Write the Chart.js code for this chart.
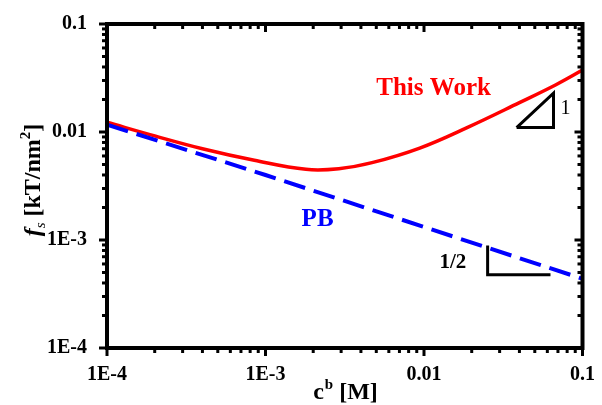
<!DOCTYPE html>
<html>
<head>
<meta charset="utf-8">
<script src="https://cdn.jsdelivr.net/npm/chart.js@4.4.1/dist/chart.umd.min.js"></script>
<style>
html, body { margin: 0; padding: 0; background: #fff; }
#chart { display: block; }
</style>
</head>
<body>
<canvas id="chart" width="602" height="405"></canvas>
<script>
// bulk concentration c^b [M]
const cb = [1e-4, 2e-4, 4e-4, 8.5e-4, 1.8e-3, 2.9e-3, 4.7e-3, 9.4e-3, 0.019, 0.04, 0.068, 0.1];
const thisWork = [0.0123, 0.0092, 0.0070, 0.00547, 0.00451, 0.00457, 0.0052, 0.0071, 0.0111, 0.0187, 0.0274, 0.0374];

const pbC = [1e-4, 1e-3, 1e-2, 1e-1];
const pb = [0.0117, 0.0040, 0.00132, 0.000438];

// slope markers
const slope1X = [0.0384, 0.0656, 0.0656, 0.0384];
const slope1Y = [0.0110, 0.0110, 0.0229, 0.0110];
const halfX = [0.0252, 0.0252, 0.0628];
const halfY = [8.9e-4, 4.77e-4, 4.77e-4];

const xTicks = [1e-4, 1e-3, 1e-2, 1e-1];
const xTickLabels = ["1E-4", "1E-3", "0.01", "0.1"];
const yTicks = [1e-4, 1e-3, 1e-2, 1e-1];
const yTickLabels = ["1E-4", "1E-3", "0.01", "0.1"];

const SERIF = "'Liberation Serif', 'Times New Roman', serif";

const pts = (xs, ys) => xs.map((v, i) => ({x: v, y: ys[i]}));

function minorValues(ticks) {
    const out = [];
    ticks.slice(0, -1).forEach(d => {
        for (let m = 2; m <= 9; m++) out.push(d * m);
    });
    return out;
}

const framePlugin = {
    id: "frame",
    afterDatasetsDraw(chart) {
        const {ctx, chartArea: a, scales: {x, y}} = chart;
        ctx.save();
        ctx.strokeStyle = "#000";
        ctx.lineWidth = 3;
        const tick = (x1, y1, x2, y2) => {
            ctx.beginPath();
            ctx.moveTo(x1, y1);
            ctx.lineTo(x2, y2);
            ctx.stroke();
        };
        const MAJ = 8, MIN = 5;
        xTicks.forEach(v => {
            const px = x.getPixelForValue(v);
            tick(px, a.bottom, px, a.bottom + MAJ);
            tick(px, a.top, px, a.top + MAJ);
        });
        minorValues(xTicks).forEach(v => {
            const px = x.getPixelForValue(v);
            tick(px, a.bottom, px, a.bottom + MIN);
            tick(px, a.top, px, a.top + MIN);
        });
        yTicks.forEach(v => {
            const py = y.getPixelForValue(v);
            tick(a.left, py, a.left - MAJ, py);
            tick(a.right, py, a.right - MAJ, py);
        });
        minorValues(yTicks).forEach(v => {
            const py = y.getPixelForValue(v);
            tick(a.left, py, a.left - MIN, py);
            tick(a.right, py, a.right - MIN, py);
        });
        ctx.lineWidth = 4;
        ctx.strokeRect(a.left, a.top, a.right - a.left, a.bottom - a.top);

        // annotations
        ctx.textBaseline = "alphabetic";
        ctx.textAlign = "left";
        ctx.fillStyle = "#ff0000";
        ctx.font = "bold 25px " + SERIF;
        ctx.fillText("This Work", x.getPixelForValue(5.0e-3), y.getPixelForValue(0.0218));
        ctx.fillStyle = "#0000ff";
        ctx.fillText("PB", x.getPixelForValue(1.69e-3), y.getPixelForValue(1.35e-3));
        ctx.fillStyle = "#000";
        ctx.font = "20px " + SERIF;
        ctx.fillText("1", x.getPixelForValue(0.0726), y.getPixelForValue(0.01475));
        ctx.font = "bold 21px " + SERIF;
        ctx.fillText("1/2", x.getPixelForValue(0.01253), y.getPixelForValue(5.52e-4));

        // x title: c^b [M]
        const big = "bold 24px " + SERIF, sup = "bold 15px " + SERIF;
        ctx.font = big;
        const wc = ctx.measureText("c").width;
        const wr = ctx.measureText(" [M]").width;
        ctx.font = sup;
        const wb = ctx.measureText("b").width;
        let sx = 345 - (wc + wb + wr) / 2;
        const by = 399;
        ctx.font = big;
        ctx.fillText("c", sx, by);
        ctx.font = sup;
        ctx.fillText("b", sx + wc + 1, by - 10);
        ctx.font = big;
        ctx.fillText(" [M]", sx + wc + wb + 1, by);

        // y title: f_s [kT/nm^2]
        ctx.translate(40, 180);
        ctx.rotate(-Math.PI / 2);
        const fF = "italic bold 24px " + SERIF, sF = "italic 15px " + SERIF;
        const parts = [
            {t: "f", f: fF, dy: 0},
            {t: "s", f: sF, dy: 5},
            {t: " [kT/nm", f: big, dy: 0},
            {t: "2", f: sup, dy: -10},
            {t: "]", f: big, dy: 0}
        ];
        let total = 0;
        parts.forEach(p => { ctx.font = p.f; p.w = ctx.measureText(p.t).width; total += p.w; });
        let cx = -total / 2;
        parts.forEach(p => {
            ctx.font = p.f;
            ctx.fillText(p.t, cx, p.dy);
            cx += p.w;
        });
        ctx.restore();
    }
};

new Chart(document.getElementById("chart"), {
    type: "line",
    data: {
        datasets: [
            {
                label: "PB",
                data: pts(pbC, pb),
                borderColor: "#0000ff",
                borderWidth: 4,
                borderDash: [22, 9],
                pointRadius: 0,
                tension: 0
            },
            {
                label: "This Work",
                data: pts(cb, thisWork),
                borderColor: "#ff0000",
                borderWidth: 3.5,
                pointRadius: 0,
                tension: 0.4
            },
            {
                label: "slope 1",
                data: pts(slope1X, slope1Y),
                borderColor: "#000",
                borderWidth: 3,
                pointRadius: 0,
                tension: 0
            },
            {
                label: "slope 1/2",
                data: pts(halfX, halfY),
                borderColor: "#000",
                borderWidth: 3,
                pointRadius: 0,
                tension: 0
            }
        ]
    },
    options: {
        responsive: false,
        animation: false,
        devicePixelRatio: 1,
        layout: {padding: {top: 17, right: 19, left: 0, bottom: 0}},
        plugins: {legend: {display: false}, tooltip: {enabled: false}},
        scales: {
            x: {
                type: "logarithmic",
                min: 1e-4,
                max: 0.1,
                grid: {display: false},
                border: {display: false},
                afterBuildTicks: s => { s.ticks = xTicks.map(v => ({value: v})); },
                afterFit: s => { s.height = 57; },
                ticks: {
                    color: "#000",
                    font: {family: SERIF, size: 20, weight: "bold"},
                    padding: 7,
                    maxRotation: 0,
                    autoSkip: false,
                    callback: v => xTickLabels[xTicks.indexOf(v)]
                }
            },
            y: {
                type: "logarithmic",
                min: 1e-4,
                max: 0.1,
                grid: {display: false},
                border: {display: false},
                afterBuildTicks: s => { s.ticks = yTicks.map(v => ({value: v})); },
                afterFit: s => { s.width = 107; },
                ticks: {
                    color: "#000",
                    font: {family: SERIF, size: 20, weight: "bold"},
                    padding: 12,
                    autoSkip: false,
                    callback: v => yTickLabels[yTicks.indexOf(v)]
                }
            }
        }
    },
    plugins: [framePlugin]
});
</script>
</body>
</html>
